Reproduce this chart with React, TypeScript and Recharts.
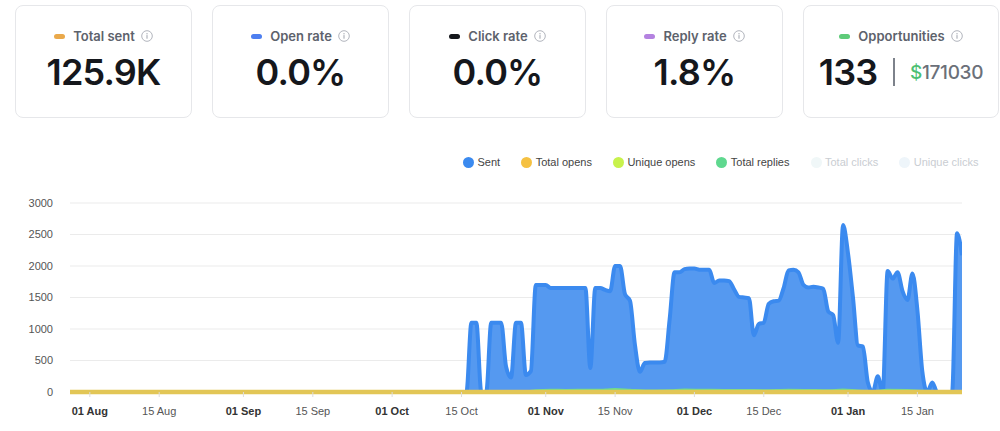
import React from "react"
import { ComposedChart, Area, Line, XAxis, YAxis, CartesianGrid } from "recharts"

const kpiTitles = ["Total sent", "Open rate", "Click rate", "Reply rate", "Opportunities"]
const kpiColors = ["#eaa94b", "#4d7ff0", "#16181d", "#b482e0", "#5ecb79"]
const kpiValues = ["125.9K", "0.0%", "0.0%", "1.8%", "133"]
const opportunityAmount = "171030"

const legendNames = ["Sent", "Total opens", "Unique opens", "Total replies", "Total clicks", "Unique clicks"]
const legendColors = ["#3b8aef", "#f5c142", "#c8f24c", "#5fd88f", "#f0f7f8", "#eef5fa"]
const legendHidden = [false, false, false, false, true, true]

// x values are days counted from 01 Aug
const xDomain = [-4, 176]
const xTicks = [0, 14, 31, 45, 61, 75, 92, 106, 122, 136, 153, 167]
const xTickLabels = ["01 Aug", "15 Aug", "01 Sep", "15 Sep", "01 Oct", "15 Oct", "01 Nov", "15 Nov", "01 Dec", "15 Dec", "01 Jan", "15 Jan"]
const yTicks = [0, 500, 1000, 1500, 2000, 2500, 3000]

// sent: one value per day from 15 Oct (day 75) to 24 Jan (day 176); zero before that
const sentFirstDay = 75
const sent = [
  0, 0, 1100, 1100, 0, 0, 1100, 1100, 1100, 400,
  230, 1100, 1100, 270, 330, 1700, 1700, 1700, 1650, 1650,
  1650, 1650, 1650, 1650, 1650, 1650, 380, 1650, 1650, 1620,
  1600, 2000, 2000, 1550, 1450, 750, 320, 460, 470, 470,
  470, 480, 1150, 1900, 1900, 1950, 1960, 1960, 1940, 1940,
  1940, 1730, 1770, 1770, 1760, 1630, 1510, 1500, 1490, 900,
  1080, 1100, 1400, 1440, 1450, 1650, 1930, 1940, 1900, 1700,
  1660, 1670, 1660, 1640, 1280, 1220, 780, 2650, 2200, 1500,
  740, 720, 150, 0, 250, 0, 1920, 1800, 1900, 1600,
  1460, 1880, 1300, 320, 0, 150, 0, 0, 0, 0,
  2520, 2170,
]

const repliesDays = [-4, 88, 90, 93, 96, 100, 104, 106, 109, 112, 117, 120, 124, 128, 132, 136, 141, 145, 149, 152, 155, 158, 161, 165, 168, 172, 175, 176]
const replies = [0, 0, 20, 28, 25, 28, 30, 40, 28, 15, 20, 30, 28, 25, 25, 20, 28, 25, 20, 30, 15, 8, 28, 25, 10, 4, 8, 8]

const opensDays = [-4, 176]
const totalOpens = [0, 0]
const uniqueOpens = [0, 0]

function buildRows() {
  const rows: Record<number, any> = {}
  const put = (day: number, key: string, v: number) => {
    if (!rows[day]) rows[day] = { day }
    rows[day][key] = v
  }
  put(-4, "sent", 0)
  sent.forEach((v, i) => put(sentFirstDay + i, "sent", v))
  repliesDays.forEach((d, i) => put(d, "replies", replies[i]))
  opensDays.forEach((d, i) => {
    put(d, "totalOpens", totalOpens[i])
    put(d, "uniqueOpens", uniqueOpens[i])
  })
  return Object.values(rows).sort((a, b) => a.day - b.day)
}

const chartData = buildRows()
const axisFont = "'Liberation Sans', Arial, Helvetica, sans-serif"
const cardFont = "Inter, 'Noto Sans', sans-serif"

function XTick({ x, y, payload }: any) {
  const i = xTicks.indexOf(payload.value)
  const label = xTickLabels[i] ?? ""
  const bold = label.startsWith("01")
  return (
    <text
      x={x}
      y={y}
      dy="0.71em"
      textAnchor="middle"
      fontSize={11}
      fontFamily={axisFont}
      fontWeight={bold ? 700 : 400}
      fill={bold ? "#333" : "#555"}
    >
      {label}
    </text>
  )
}

function InfoIcon() {
  return (
    <svg width={12} height={12} viewBox="0 0 12 12" style={{ marginLeft: 6 }}>
      <circle cx={6} cy={6} r={5.3} fill="none" stroke="#a9adb5" strokeWidth={0.9} />
      <circle cx={6} cy={3.7} r={0.7} fill="#a9adb5" />
      <rect x={5.45} y={5.1} width={1.1} height={3.6} fill="#a9adb5" />
    </svg>
  )
}

function KpiCard({ i }: { i: number }) {
  const lefts = [15, 212, 409, 606, 803]
  const widths = [177, 177, 177, 177, 196]
  return (
    <div
      style={{
        position: "absolute",
        left: lefts[i],
        top: 5,
        width: widths[i],
        height: 113,
        boxSizing: "border-box",
        border: "1px solid #e6e7ea",
        borderRadius: 8,
        fontFamily: cardFont,
      }}
    >
      <div
        style={{
          position: "absolute",
          top: 21,
          left: 0,
          right: 0,
          height: 18,
          display: "flex",
          alignItems: "center",
          justifyContent: "center",
        }}
      >
        <span style={{ width: 11, height: 5, borderRadius: 3, background: kpiColors[i], marginRight: 8 }} />
        <span style={{ fontSize: 13, fontWeight: 600, color: "#5d626c" }}>{kpiTitles[i]}</span>
        <InfoIcon />
      </div>
      <div
        style={{
          position: "absolute",
          top: 45,
          left: 0,
          right: 0,
          height: 42,
          display: "flex",
          alignItems: "center",
          justifyContent: "center",
          color: "#15171c",
          fontSize: 36,
          fontWeight: 600,
          letterSpacing: -0.8,
        }}
      >
        <span>{kpiValues[i]}</span>
        {i === 4 && (
          <>
            <span style={{ width: 1.5, height: 28, background: "#7d828b", margin: "0 15px 0 16px" }} />
            <span style={{ fontSize: 19, fontWeight: 500, letterSpacing: -0.3, color: "#6b7079" }}>
              <span style={{ color: "#4cbf72" }}>$</span>
              {opportunityAmount}
            </span>
          </>
        )}
      </div>
    </div>
  )
}

function ChartLegend() {
  return (
    <div
      style={{
        position: "absolute",
        left: 463,
        top: 155,
        height: 14,
        display: "flex",
        alignItems: "center",
        fontFamily: axisFont,
        fontSize: 11,
        whiteSpace: "nowrap",
      }}
    >
      {legendNames.map((n, i) => (
        <div key={n} style={{ display: "flex", alignItems: "center", marginRight: 21 }}>
          <span
            style={{
              width: 11,
              height: 11,
              borderRadius: "50%",
              background: legendColors[i],
              marginRight: 3.5,
            }}
          />
          <span style={{ color: legendHidden[i] ? "#c9cdd2" : "#444" }}>{n}</span>
        </div>
      ))}
    </div>
  )
}

export default function App() {
  return (
    <div
      style={{
        position: "absolute",
        left: 0,
        top: 0,
        width: 1000,
        height: 431,
        background: "#fff",
        overflow: "hidden",
      }}
    >
      {kpiTitles.map((_, i) => (
        <KpiCard key={i} i={i} />
      ))}
      <ChartLegend />
      <div style={{ position: "absolute", left: 0, top: 140 }}>
        <ComposedChart
          width={1000}
          height={291}
          data={chartData}
          margin={{ top: 63, right: 38, bottom: 9, left: 0 }}
        >
          <CartesianGrid stroke="#ebebeb" vertical={false} />
          <XAxis
            dataKey="day"
            type="number"
            domain={xDomain}
            ticks={xTicks}
            tick={<XTick />}
            axisLine={false}
            tickLine={{ stroke: "#dddddd" }}
            tickSize={5}
            tickMargin={10}
            height={30}
            allowDataOverflow
          />
          <YAxis
            domain={[0, 3000]}
            ticks={yTicks}
            width={70}
            axisLine={false}
            tickLine={false}
            tickSize={0}
            tickMargin={17}
            tick={{ fontSize: 11, fill: "#555", fontFamily: axisFont }}
          />
          <Area
            type="monotone"
            dataKey="sent"
            stroke="#3b8aef"
            strokeWidth={4}
            fill="#5599f0"
            fillOpacity={1}
            dot={false}
            connectNulls
            isAnimationActive={false}
          />
          <Line
            type="monotone"
            dataKey="uniqueOpens"
            stroke="#c8f24c"
            strokeWidth={3}
            dot={false}
            connectNulls
            isAnimationActive={false}
          />
          <Line
            type="monotone"
            dataKey="replies"
            stroke="#6fdc8c"
            strokeWidth={3}
            dot={false}
            connectNulls
            isAnimationActive={false}
          />
          <Line
            type="monotone"
            dataKey="totalOpens"
            stroke="#e2c656"
            strokeWidth={4.5}
            dot={false}
            connectNulls
            isAnimationActive={false}
          />
        </ComposedChart>
      </div>
    </div>
  )
}
